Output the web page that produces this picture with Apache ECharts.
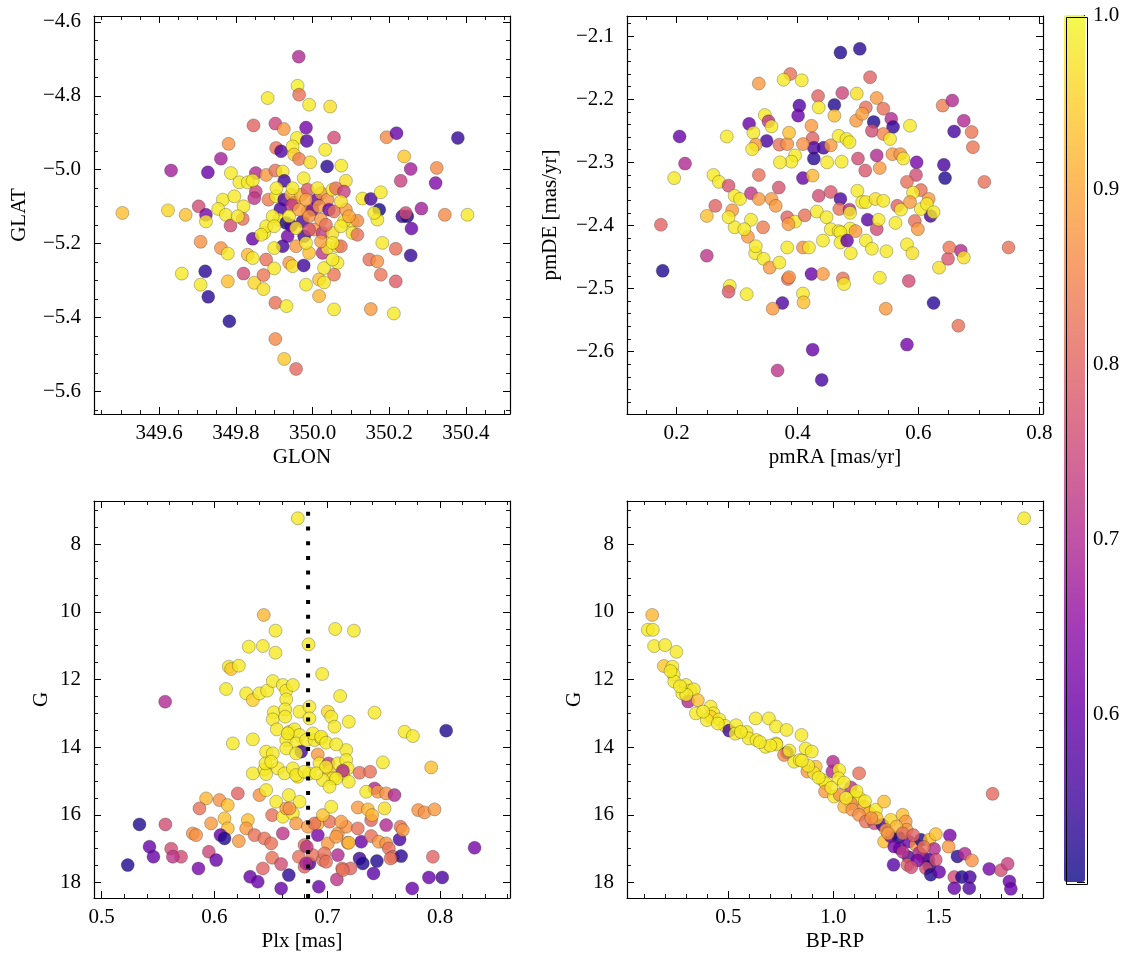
<!DOCTYPE html>
<html>
<head>
<meta charset="utf-8">
<script src="https://cdn.jsdelivr.net/npm/echarts@6/dist/echarts.min.js"></script>
<style>
html,body{margin:0;padding:0;background:#fff;}
#chart{width:1133px;height:965px;}
</style>
</head>
<body>
<div id="chart"></div>
<script>
// ---------------- DATA ----------------
// each star: [x, y, membership probability]
const skyStars = [
[349.964,-4.694,0.70],[349.961,-4.773,0.99],[349.965,-4.797,0.82],[349.883,-4.806,0.98],[349.991,-4.824,0.98],
[350.046,-4.829,0.97],[349.846,-4.880,0.80],[349.903,-4.875,0.75],[349.925,-4.890,0.88],[349.983,-4.886,0.62],
[350.056,-4.913,0.76],[349.959,-4.914,0.98],[349.985,-4.922,0.57],[350.193,-4.912,0.86],[350.219,-4.901,0.60],
[350.379,-4.914,0.54],[349.781,-4.930,0.87],[349.905,-4.941,0.82],[349.918,-4.950,0.57],[349.948,-4.937,0.98],
[349.952,-4.959,0.95],[349.965,-4.971,0.84],[350.033,-4.946,0.98],[349.994,-4.980,0.97],[349.761,-4.970,0.68],
[350.038,-4.991,0.53],[350.075,-4.989,0.98],[350.239,-4.964,0.94],[350.256,-4.998,0.68],[350.324,-4.995,0.86],
[349.631,-5.002,0.68],[349.727,-5.007,0.60],[349.787,-5.009,0.98],[349.852,-5.009,0.70],[349.879,-5.014,0.88],
[349.903,-5.002,0.82],[349.922,-5.005,0.98],[349.926,-5.030,0.55],[349.977,-5.023,0.98],[350.087,-5.030,0.97],
[350.230,-5.030,0.74],[350.321,-5.036,0.63],[349.809,-5.034,0.98],[349.831,-5.034,0.98],[349.766,-5.081,0.98],
[349.796,-5.072,0.98],[349.820,-5.099,0.98],[349.852,-5.059,0.74],[349.848,-5.077,0.72],[349.885,-5.081,0.84],
[349.905,-5.072,0.98],[349.926,-5.081,0.57],[349.944,-5.068,0.93],[349.952,-5.090,0.88],[349.916,-5.106,0.56],
[349.946,-5.096,0.72],[349.970,-5.068,0.92],[349.987,-5.054,0.78],[350.011,-5.081,0.60],[350.022,-5.063,0.88],
[350.039,-5.081,0.87],[350.052,-5.054,0.98],[350.061,-5.050,0.82],[350.082,-5.059,0.74],[350.130,-5.078,0.98],
[350.152,-5.079,0.56],[350.178,-5.061,0.98],[350.174,-5.108,0.51],[350.169,-5.135,0.98],[349.703,-5.099,0.76],
[349.722,-5.122,0.62],[349.722,-5.140,0.98],[349.623,-5.110,0.96],[349.504,-5.117,0.93],[349.669,-5.122,0.93],
[349.754,-5.106,0.98],[349.774,-5.122,0.98],[349.786,-5.151,0.76],[349.818,-5.133,0.82],[349.844,-5.187,0.60],
[349.874,-5.171,0.98],[349.879,-5.153,0.98],[349.913,-5.135,0.98],[349.931,-5.144,0.52],[349.944,-5.151,0.56],
[349.974,-5.140,0.56],[349.987,-5.113,0.88],[350.000,-5.108,0.61],[350.017,-5.099,0.88],[350.043,-5.108,0.60],
[350.004,-5.162,0.88],[350.026,-5.171,0.73],[349.978,-5.180,0.55],[349.935,-5.180,0.62],[349.922,-5.207,0.56],
[350.056,-5.113,0.82],[350.087,-5.108,0.88],[350.104,-5.140,0.98],[350.117,-5.138,0.86],[350.104,-5.171,0.98],
[350.117,-5.176,0.82],[350.182,-5.198,0.98],[350.217,-5.214,0.82],[350.234,-5.126,0.55],[350.247,-5.126,0.51],
[350.258,-5.159,0.60],[350.284,-5.105,0.68],[350.345,-5.122,0.86],[350.404,-5.122,0.98],[350.256,-5.232,0.54],
[349.708,-5.195,0.87],[349.761,-5.212,0.87],[349.779,-5.227,0.98],[349.831,-5.230,0.92],[349.844,-5.239,0.98],
[349.879,-5.243,0.82],[349.900,-5.212,0.98],[349.900,-5.267,0.98],[349.939,-5.252,0.88],[349.948,-5.261,0.97],
[349.977,-5.259,0.55],[349.991,-5.225,0.93],[350.026,-5.225,0.72],[350.039,-5.212,0.98],[350.065,-5.207,0.98],
[350.074,-5.207,0.82],[350.065,-5.252,0.98],[350.056,-5.284,0.83],[350.030,-5.266,0.98],[350.148,-5.243,0.82],
[350.169,-5.248,0.87],[350.178,-5.284,0.83],[350.217,-5.302,0.79],[349.659,-5.281,0.98],[349.720,-5.275,0.53],
[349.708,-5.311,0.98],[349.728,-5.344,0.53],[349.779,-5.302,0.93],[349.820,-5.281,0.76],[349.848,-5.306,0.96],
[349.872,-5.323,0.97],[349.872,-5.285,0.83],[349.903,-5.360,0.82],[349.932,-5.369,0.98],[349.983,-5.311,0.98],
[350.017,-5.297,0.93],[350.030,-5.305,0.98],[350.017,-5.342,0.92],[350.056,-5.378,0.98],[350.152,-5.377,0.88],
[350.212,-5.389,0.98],[349.783,-5.410,0.52],[349.903,-5.458,0.86],[349.926,-5.512,0.94],[349.957,-5.539,0.81],
[349.844,-5.029,0.98],[349.906,-5.050,0.98],[349.939,-5.126,0.98],[350.013,-5.050,0.98],[349.965,-5.108,0.89],
[349.991,-5.162,0.77],[350.052,-5.171,0.97],[350.082,-5.140,0.98],[350.074,-5.086,0.97],[349.957,-5.207,0.88],
[349.983,-5.198,0.98],[350.052,-5.243,0.98],[350.243,-5.117,0.76],[350.161,-5.117,0.98],[349.805,-5.126,0.98],
[349.896,-5.126,0.98],[349.866,-5.176,0.98],[349.900,-5.153,0.98],[349.957,-5.158,0.97],[349.991,-5.126,0.87],
[350.022,-5.135,0.88],[350.035,-5.149,0.82],[350.022,-5.194,0.89],[350.052,-5.198,0.98],[350.074,-5.153,0.98],
[350.095,-5.126,0.90],[349.983,-5.081,0.89],[349.948,-5.050,0.98]
];

const pmStars = [
[0.471,-2.126,0.52],[0.503,-2.120,0.53],[0.388,-2.160,0.82],[0.336,-2.175,0.88],[0.377,-2.169,0.98],
[0.407,-2.170,0.98],[0.520,-2.165,0.80],[0.474,-2.190,0.75],[0.434,-2.195,0.80],[0.498,-2.191,0.97],
[0.403,-2.210,0.57],[0.435,-2.213,0.98],[0.461,-2.209,0.52],[0.401,-2.226,0.60],[0.461,-2.226,0.93],
[0.513,-2.213,0.82],[0.531,-2.198,0.88],[0.542,-2.215,0.82],[0.497,-2.234,0.88],[0.507,-2.223,0.89],
[0.526,-2.236,0.52],[0.555,-2.231,0.70],[0.558,-2.244,0.54],[0.523,-2.250,0.76],[0.542,-2.255,0.85],
[0.553,-2.263,0.98],[0.586,-2.242,0.98],[0.640,-2.210,0.84],[0.656,-2.202,0.70],[0.675,-2.234,0.70],
[0.659,-2.251,0.56],[0.688,-2.252,0.83],[0.690,-2.276,0.83],[0.205,-2.259,0.60],[0.214,-2.302,0.70],
[0.196,-2.325,0.98],[0.283,-2.259,0.98],[0.320,-2.239,0.60],[0.327,-2.253,0.98],[0.346,-2.225,0.98],
[0.352,-2.235,0.72],[0.357,-2.243,0.98],[0.349,-2.266,0.56],[0.331,-2.272,0.88],[0.325,-2.279,0.98],
[0.370,-2.272,0.82],[0.383,-2.271,0.87],[0.386,-2.253,0.93],[0.423,-2.242,0.88],[0.425,-2.262,0.80],
[0.427,-2.277,0.57],[0.443,-2.277,0.56],[0.427,-2.294,0.53],[0.409,-2.271,0.87],[0.455,-2.273,0.88],
[0.468,-2.258,0.98],[0.481,-2.263,0.98],[0.486,-2.268,0.98],[0.473,-2.299,0.98],[0.449,-2.300,0.98],
[0.396,-2.289,0.98],[0.390,-2.299,0.98],[0.371,-2.300,0.98],[0.336,-2.320,0.82],[0.500,-2.294,0.76],
[0.512,-2.313,0.78],[0.531,-2.289,0.70],[0.536,-2.309,0.88],[0.557,-2.287,0.88],[0.570,-2.287,0.87],
[0.575,-2.294,0.98],[0.597,-2.300,0.62],[0.596,-2.320,0.76],[0.581,-2.331,0.82],[0.604,-2.344,0.82],
[0.617,-2.358,0.88],[0.620,-2.385,0.56],[0.642,-2.304,0.56],[0.644,-2.325,0.52],[0.709,-2.331,0.82],
[0.409,-2.325,0.60],[0.425,-2.321,0.92],[0.435,-2.353,0.76],[0.455,-2.347,0.78],[0.471,-2.358,0.56],
[0.469,-2.374,0.82],[0.486,-2.375,0.70],[0.516,-2.391,0.58],[0.531,-2.406,0.76],[0.565,-2.369,0.80],
[0.591,-2.348,0.98],[0.594,-2.393,0.82],[0.599,-2.406,0.88],[0.581,-2.430,0.98],[0.590,-2.444,0.97],
[0.261,-2.320,0.98],[0.270,-2.331,0.98],[0.286,-2.337,0.77],[0.296,-2.353,0.98],[0.305,-2.358,0.98],
[0.323,-2.349,0.72],[0.336,-2.358,0.88],[0.369,-2.340,0.77],[0.357,-2.358,0.88],[0.364,-2.369,0.88],
[0.264,-2.369,0.80],[0.250,-2.385,0.93],[0.174,-2.399,0.80],[0.292,-2.376,0.88],[0.296,-2.403,0.98],
[0.318,-2.418,0.88],[0.323,-2.391,0.98],[0.343,-2.403,0.84],[0.383,-2.387,0.80],[0.396,-2.394,0.98],
[0.385,-2.398,0.88],[0.412,-2.384,0.82],[0.432,-2.378,0.98],[0.448,-2.387,0.98],[0.455,-2.406,0.98],
[0.468,-2.409,0.98],[0.487,-2.405,0.98],[0.487,-2.380,0.98],[0.499,-2.345,0.98],[0.507,-2.363,0.98],
[0.513,-2.363,0.98],[0.529,-2.358,0.97],[0.542,-2.361,0.98],[0.562,-2.396,0.98],[0.571,-2.375,0.98],
[0.586,-2.363,0.88],[0.604,-2.374,0.98],[0.614,-2.366,0.98],[0.625,-2.379,0.98],[0.250,-2.448,0.72],
[0.177,-2.472,0.52],[0.286,-2.387,0.98],[0.312,-2.406,0.98],[0.330,-2.444,0.98],[0.344,-2.453,0.98],
[0.354,-2.467,0.88],[0.370,-2.459,0.98],[0.331,-2.433,0.98],[0.383,-2.435,0.98],[0.384,-2.485,0.81],
[0.386,-2.482,0.87],[0.409,-2.435,0.87],[0.419,-2.435,0.98],[0.442,-2.424,0.98],[0.471,-2.411,0.98],
[0.471,-2.427,0.98],[0.482,-2.424,0.60],[0.488,-2.444,0.98],[0.496,-2.409,0.88],[0.513,-2.424,0.98],
[0.523,-2.437,0.98],[0.534,-2.391,0.98],[0.547,-2.441,0.98],[0.423,-2.477,0.60],[0.442,-2.477,0.88],
[0.475,-2.484,0.82],[0.477,-2.493,0.98],[0.536,-2.483,0.98],[0.584,-2.488,0.76],[0.634,-2.467,0.97],
[0.649,-2.453,0.78],[0.670,-2.440,0.70],[0.675,-2.451,0.97],[0.651,-2.435,0.83],[0.749,-2.435,0.82],
[0.288,-2.496,0.98],[0.286,-2.505,0.78],[0.316,-2.509,0.98],[0.375,-2.523,0.57],[0.359,-2.532,0.88],
[0.409,-2.508,0.98],[0.410,-2.522,0.93],[0.546,-2.532,0.88],[0.625,-2.523,0.53],[0.666,-2.559,0.82],
[0.581,-2.589,0.62],[0.425,-2.597,0.60],[0.367,-2.630,0.72],[0.440,-2.645,0.56]
];

const plxStars = [
[0.6739,7.231,0.98],[0.6437,10.091,0.92],[0.6541,10.554,0.98],[0.6541,11.205,0.98],[0.6304,11.028,0.98],
[0.6429,11.008,0.98],[0.6834,10.959,0.98],[0.7070,10.505,0.98],[0.7236,10.554,0.98],[0.6127,11.619,0.98],
[0.6148,11.688,0.94],[0.6216,11.590,0.98],[0.6103,12.280,0.98],[0.6955,11.836,0.98],[0.5563,12.655,0.70],
[0.6281,12.408,0.98],[0.6340,12.606,0.95],[0.6399,12.408,0.98],[0.6467,12.329,0.98],[0.6517,12.043,0.98],
[0.6606,12.162,0.98],[0.6636,12.329,0.98],[0.6695,12.162,0.98],[0.6636,12.586,0.98],[0.7114,12.487,0.98],
[0.6526,12.970,0.98],[0.6517,13.178,0.98],[0.6627,12.882,0.98],[0.6627,13.099,0.98],[0.6754,12.951,0.98],
[0.6842,12.803,0.98],[0.6842,13.148,0.98],[0.7005,12.951,0.96],[0.7035,13.099,0.98],[0.7064,13.394,0.98],
[0.7191,13.247,0.98],[0.7419,12.980,0.98],[0.6163,13.888,0.98],[0.6340,13.769,0.98],[0.6553,13.473,0.98],
[0.6665,13.542,0.98],[0.6709,13.473,0.98],[0.6754,13.641,0.98],[0.6636,13.789,0.98],[0.6724,13.888,0.98],
[0.6813,13.789,0.98],[0.6887,13.789,0.98],[0.6946,13.740,0.98],[0.7685,13.542,0.98],[0.7759,13.671,0.98],
[0.8054,13.513,0.52],[0.6769,14.134,0.55],[0.6916,14.213,0.88],[0.6458,14.134,0.98],[0.6517,14.183,0.98],
[0.6636,14.036,0.98],[0.6724,14.183,0.98],[0.6340,14.775,0.98],[0.6443,14.657,0.98],[0.6458,14.795,0.98],
[0.6562,14.627,0.98],[0.6621,14.775,0.98],[0.6695,14.627,0.98],[0.6739,14.874,0.98],[0.6842,14.775,0.98],
[0.6931,14.479,0.98],[0.7011,14.479,0.72],[0.7020,14.726,0.94],[0.7094,14.479,0.98],[0.7168,14.085,0.98],
[0.7168,14.381,0.98],[0.7182,14.627,0.98],[0.7138,14.775,0.98],[0.7191,15.022,0.98],[0.7049,14.923,0.98],
[0.6961,14.972,0.98],[0.7138,14.696,0.70],[0.7286,14.755,0.82],[0.7380,14.726,0.82],[0.7419,15.219,0.70],
[0.7493,14.450,0.98],[0.7345,15.318,0.98],[0.7448,15.318,0.88],[0.7522,15.367,0.87],[0.7596,15.416,0.70],
[0.7921,14.598,0.93],[0.7806,15.860,0.87],[0.7862,15.929,0.87],[0.7951,15.840,0.88],[0.7936,17.241,0.80],
[0.8306,16.974,0.62],[0.5926,15.515,0.92],[0.5867,15.811,0.82],[0.6044,15.564,0.87],[0.6118,15.712,0.93],
[0.6207,15.367,0.80],[0.6399,15.416,0.87],[0.6458,15.268,0.98],[0.6547,15.613,0.98],[0.6511,16.008,0.82],
[0.6606,16.057,0.98],[0.6695,15.959,0.98],[0.6636,15.811,0.88],[0.6754,15.613,0.98],[0.5970,16.254,0.88],
[0.6089,16.107,0.93],[0.6118,16.402,0.93],[0.6296,16.156,0.93],[0.6281,16.402,0.88],[0.5808,16.550,0.87],
[0.5837,16.600,0.87],[0.5335,16.284,0.52],[0.5565,16.284,0.76],[0.5616,17.000,0.76],[0.5704,17.241,0.76],
[0.5631,17.241,0.72],[0.5424,16.945,0.60],[0.5459,17.241,0.60],[0.5231,17.487,0.52],[0.5858,17.586,0.62],
[0.5950,17.093,0.75],[0.6015,17.339,0.60],[0.6053,16.600,0.60],[0.6089,16.698,0.52],[0.6216,16.777,0.88],
[0.6355,16.600,0.82],[0.6443,16.698,0.82],[0.6503,16.846,0.82],[0.6511,17.270,0.82],[0.6429,17.586,0.80],
[0.6316,17.832,0.60],[0.6384,17.980,0.60],[0.6591,17.458,0.76],[0.6659,17.783,0.53],[0.6591,18.178,0.60],
[0.6724,16.254,0.88],[0.6748,17.241,0.82],[0.6798,17.536,0.80],[0.6842,17.438,0.57],[0.6872,17.191,0.82],
[0.6916,16.600,0.62],[0.6925,18.128,0.60],[0.6828,16.353,0.88],[0.6916,16.254,0.92],[0.7005,16.846,0.88],
[0.6961,17.339,0.82],[0.7020,16.205,0.82],[0.7094,16.550,0.88],[0.7094,17.191,0.70],[0.7132,17.586,0.82],
[0.7168,16.353,0.87],[0.7182,16.826,0.82],[0.7206,17.586,0.80],[0.7085,17.911,0.72],[0.7271,16.402,0.82],
[0.7286,17.290,0.55],[0.7315,17.438,0.52],[0.7301,16.797,0.60],[0.7389,16.156,0.80],[0.7389,16.629,0.82],
[0.7410,17.734,0.58],[0.7440,17.369,0.52],[0.7457,16.797,0.88],[0.7522,16.304,0.70],[0.7522,16.846,0.87],
[0.7546,16.994,0.82],[0.7581,17.241,0.82],[0.7649,16.353,0.82],[0.7641,16.728,0.56],[0.7655,17.221,0.53],
[0.7670,16.452,0.88],[0.7753,18.178,0.60],[0.7901,17.852,0.60],[0.8019,17.852,0.56],
[0.6650,13.592,0.98],[0.6872,13.592,0.98],[0.6946,13.690,0.98],[0.6990,13.868,0.98],[0.7079,13.917,0.98],
[0.6452,14.479,0.98],[0.6503,14.430,0.98],[0.6724,14.824,0.98],[0.6798,14.726,0.98],[0.6902,14.775,0.98],
[0.6990,14.578,0.98],[0.7079,14.923,0.98],[0.7020,15.170,0.98],[0.6659,15.416,0.98],[0.6665,15.811,0.87],
[0.6887,16.254,0.82],[0.6961,16.008,0.93],[0.7035,15.761,0.98],[0.7123,16.205,0.88],[0.7271,15.781,0.88],
[0.7360,15.840,0.92],[0.7398,16.008,0.92],[0.7508,15.811,0.97],[0.6798,16.895,0.82],[0.7079,16.649,0.88],
[0.7191,16.826,0.93],[0.7561,17.290,0.82],[0.7138,17.635,0.82],[0.6975,17.142,0.82],[0.6990,17.389,0.82],
[0.6813,17.438,0.70],[0.6819,16.945,0.72],[0.6606,16.550,0.72]
];

const cmdStars = [
[1.907,7.231,0.98],[0.138,10.09,0.92],[0.117,10.53,0.98],[0.141,10.53,0.98],[0.147,11.01,0.98],
[0.199,10.98,0.98],[0.253,11.18,0.98],[0.193,11.60,0.94],[0.234,11.62,0.98],[0.240,11.85,0.98],
[0.243,12.06,0.98],[0.299,12.16,0.98],[0.318,12.33,0.98],[0.336,12.29,0.98],[0.281,12.41,0.98],
[0.309,12.65,0.70],[0.355,12.61,0.93],[0.346,13.00,0.98],[0.416,12.80,0.98],[0.429,13.00,0.98],
[0.416,13.10,0.95],[0.457,13.18,0.98],[0.398,13.20,0.98],[0.485,13.37,0.98],[0.504,13.51,0.55],
[0.537,13.35,0.98],[0.533,13.60,0.98],[0.587,13.55,0.98],[0.630,13.15,0.98],[0.693,13.15,0.98],
[0.727,13.39,0.98],[0.777,13.49,0.98],[0.848,13.64,0.98],[0.597,13.74,0.98],[0.634,13.79,0.98],
[0.677,13.99,0.98],[0.727,13.89,0.98],[0.779,14.16,0.55],[0.765,14.23,0.86],[0.729,13.92,0.98],
[0.813,14.43,0.98],[0.840,14.38,0.98],[0.868,14.04,0.98],[0.897,14.13,0.98],[0.876,14.72,0.88],
[0.916,14.58,0.93],[0.908,14.77,0.98],[0.948,14.97,0.98],[0.963,15.07,0.98],[0.998,14.43,0.70],
[0.995,14.72,0.70],[1.027,14.67,0.98],[1.024,14.92,0.98],[0.960,15.31,0.88],[1.003,15.46,0.98],
[1.030,15.41,0.87],[1.083,15.19,0.72],[1.122,14.77,0.82],[1.100,15.46,0.98],[1.125,15.51,0.98],
[1.083,15.66,0.87],[1.051,15.76,0.92],[1.090,15.85,0.87],[1.146,15.76,0.88],[1.170,15.95,0.92],
[1.202,15.85,0.98],[1.241,15.61,0.93],[1.122,16.00,0.87],[1.154,16.20,0.82],[1.194,16.25,0.76],
[1.233,16.30,0.55],[1.273,16.15,0.96],[1.329,16.00,0.93],[1.344,16.20,0.88],[1.348,16.44,0.88],
[1.241,16.79,0.93],[1.273,16.64,0.62],[1.310,16.67,0.51],[1.289,16.94,0.62],[1.316,16.99,0.60],
[1.359,16.79,0.60],[1.392,16.89,0.87],[1.416,16.74,0.52],[1.456,16.74,0.93],[1.487,16.57,0.93],
[1.479,17.01,0.70],[1.424,17.23,0.76],[1.452,17.33,0.56],[1.456,17.53,0.52],[1.487,17.33,0.76],
[1.357,17.25,0.57],[1.352,17.48,0.80],[1.408,17.13,0.70],[1.440,17.58,0.76],[1.463,17.77,0.52],
[1.503,17.69,0.60],[1.286,17.48,0.58],[1.554,16.61,0.62],[1.548,16.94,0.88],[1.590,17.23,0.53],
[1.625,17.15,0.70],[1.659,17.35,0.87],[1.575,17.84,0.76],[1.611,17.84,0.52],[1.649,17.84,0.56],
[1.575,18.17,0.60],[1.646,18.17,0.57],[1.741,17.60,0.62],[1.797,17.64,0.76],[1.829,17.45,0.74],
[1.837,17.97,0.60],[1.844,18.19,0.60],[1.757,15.38,0.81],
[1.206,16.10,0.93],[1.250,16.45,0.88],[1.300,16.35,0.92],[1.330,16.55,0.82],[1.380,16.60,0.80],
[1.400,17.35,0.62],[1.430,16.95,0.82],[1.330,17.10,0.72],[1.370,17.55,0.76],[1.260,16.55,0.88],
[1.180,16.10,0.87],[1.060,15.50,0.98],[0.990,15.20,0.98],[0.930,14.90,0.98],[0.880,14.55,0.98],
[0.850,14.40,0.98],[0.790,14.10,0.98],[0.700,13.95,0.98],[0.650,13.85,0.98],[0.560,13.55,0.98],
[0.450,13.30,0.98],[0.380,12.95,0.98],[0.300,12.45,0.98],[0.270,12.20,0.98],[0.225,11.75,0.98],
[1.150,15.60,0.98],[1.110,15.30,0.98],[1.050,15.05,0.98]
];

// reference parallax (dotted vertical line) and its G span
const plxRef = 0.683;
const plxRefSpan = [18.46, 6.72];

// axis ranges [min, max]
const glonRange = [349.430, 350.515];
const glatRange = [-5.661, -4.584];
const pmraRange = [0.118, 0.806];
const pmdeRange = [-2.699, -2.068];
const plxRange  = [0.4932, 0.862];
const gRange    = [6.72, 18.46];
const bprpRange = [0.018, 1.997];
const probRange = [0.504, 1.0];

// axis titles
const axisTitles = {
  glon: 'GLON', glat: 'GLAT', pmra: 'pmRA [mas/yr]', pmde: 'pmDE [mas/yr]',
  plx: 'Plx [mas]', g: 'G', bprp: 'BP-RP'
};

// plasma colormap: raw stops for the markers (drawn at alpha 0.8),
// and the same stops pre-blended with white at alpha 0.8 for the colorbar
const plasmaStops = ['#0d0887','#41049d','#6a00a8','#8f0da4','#b12a90','#cc4778',
                     '#e16462','#f2844b','#fca636','#fcce25','#f0f921'];
const plasmaBarStops = ['#3d399f','#6736b1','#8833b9','#a53db6','#c155a6','#d66c93',
                        '#e78381','#f59d6f','#fdb85e','#fdd851','#f3fa4d'];

// ---------------- CHART ----------------
const FONT = 'Liberation Serif';
const FS = 21;
const grids = [
  {left: 94,  top: 16,  width: 416, height: 398},
  {left: 627, top: 16,  width: 416, height: 398},
  {left: 94,  top: 501, width: 416, height: 397},
  {left: 627, top: 501, width: 416, height: 397},
  {left: 1064, top: 15, width: 21, height: 867}
];

function fmt(dec) {
  return function (v) {
    const s = Math.abs(v).toFixed(dec);
    return (v < -1e-9 ? '\u2212' : '') + s;
  };
}

function axis(o) {
  return {
    type: 'value', gridIndex: o.grid, position: o.pos,
    min: o.range[0], max: o.range[1], splitNumber: o.split,
    inverse: !!o.inverse,
    axisLine: {show: true, onZero: false, lineStyle: {color: '#000', width: 1.2}},
    axisTick: {show: true, inside: true, length: 7, lineStyle: {color: '#000', width: 1}},
    minorTick: {show: true, splitNumber: o.minor, length: 4, lineStyle: {color: '#000', width: 0.9}},
    splitLine: {show: false}, minorSplitLine: {show: false},
    axisLabel: {
      show: !!o.labels, showMinLabel: false, showMaxLabel: !!o.showMax,
      formatter: fmt(o.dec || 0), fontFamily: FONT, fontSize: FS, color: '#000',
      margin: o.margin || 10
    },
    name: o.name || '', nameLocation: 'middle', nameGap: o.nameGap || 30,
    nameTextStyle: {fontFamily: FONT, fontSize: FS, color: '#000'}
  };
}

const panels = [
  {x: glonRange, y: glatRange, xs: 5, ys: 5, xm: 4, ym: 4, xd: 1, yd: 1, xn: axisTitles.glon, yn: axisTitles.glat, yGap: 64},
  {x: pmraRange, y: pmdeRange, xs: 3, ys: 6, xm: 4, ym: 5, xd: 1, yd: 1, xn: axisTitles.pmra, yn: axisTitles.pmde, yGap: 66},
  {x: plxRange,  y: gRange,    xs: 4, ys: 6, xm: 5, ym: 4, xd: 1, yd: 0, xn: axisTitles.plx, yn: axisTitles.g, yGap: 42, inv: true},
  {x: bprpRange, y: gRange,    xs: 4, ys: 6, xm: 5, ym: 4, xd: 1, yd: 0, xn: axisTitles.bprp, yn: axisTitles.g, yGap: 42, inv: true}
];

const xAxes = [], yAxes = [];
panels.forEach(function (p, i) {
  xAxes.push(axis({grid: i, pos: 'bottom', range: p.x, split: p.xs, minor: p.xm, labels: true, dec: p.xd, name: p.xn, nameGap: 33, margin: 9}));
  xAxes.push(axis({grid: i, pos: 'top', range: p.x, split: p.xs, minor: p.xm, labels: false}));
  yAxes.push(axis({grid: i, pos: 'left', range: p.y, split: p.ys, minor: p.ym, labels: true, dec: p.yd, name: p.yn, nameGap: p.yGap, margin: 13, inverse: p.inv}));
  yAxes.push(axis({grid: i, pos: 'right', range: p.y, split: p.ys, minor: p.ym, labels: false, inverse: p.inv}));
});
// colorbar axis
xAxes.push({type: 'value', gridIndex: 4, show: false, min: 0, max: 1});
const cbAxis = axis({grid: 4, pos: 'right', range: probRange, split: 5, minor: 5, labels: true, dec: 1, showMax: true, margin: 8});
cbAxis.axisLine.show = false;
cbAxis.axisTick.length = 8;
yAxes.push(cbAxis);

const scatterBase = {
  type: 'scatter', symbolSize: 13,
  itemStyle: {opacity: 0.8, borderColor: 'rgba(30,30,30,0.6)', borderWidth: 0.6},
  silent: true, z: 2
};
const datasets = [skyStars, pmStars, plxStars, cmdStars];
const series = datasets.map(function (d, i) {
  return Object.assign({}, scatterBase, {xAxisIndex: 2 * i, yAxisIndex: 2 * i, data: d});
});
series.push({
  type: 'line', xAxisIndex: 4, yAxisIndex: 4, silent: true, z: 5,
  data: [[plxRef, plxRefSpan[0]], [plxRef, plxRefSpan[1]]],
  symbol: 'none',
  lineStyle: {color: '#000', width: 4, type: [4, 10.7], cap: 'butt'}
});
// empty series that only carries the visible colorbar
series.push({type: 'scatter', xAxisIndex: 8, yAxisIndex: 8, data: [], silent: true});

const chart = echarts.init(document.getElementById('chart'), null, {renderer: 'canvas'});
chart.setOption({
  animation: false,
  backgroundColor: '#fff',
  grid: grids,
  xAxis: xAxes,
  yAxis: yAxes,
  visualMap: [{
    type: 'continuous', show: false, min: probRange[0], max: probRange[1], dimension: 2,
    seriesIndex: [0, 1, 2, 3], calculable: false,
    inRange: {color: plasmaStops}
  }, {
    type: 'continuous', min: probRange[0], max: probRange[1], dimension: 2,
    seriesIndex: [5], calculable: false, realtime: false, hoverLink: false,
    inRange: {color: plasmaBarStops},
    orient: 'vertical', left: 1064, top: 15, itemWidth: 21, itemHeight: 867,
    padding: 0, text: null, showLabel: false
  }],
  graphic: [{
    type: 'rect', left: 1064, top: 15, z: 100, silent: true,
    shape: {width: 21, height: 867},
    style: {fill: 'none', stroke: '#000', lineWidth: 1}
  }],
  series: series
});
</script>
</body>
</html>
